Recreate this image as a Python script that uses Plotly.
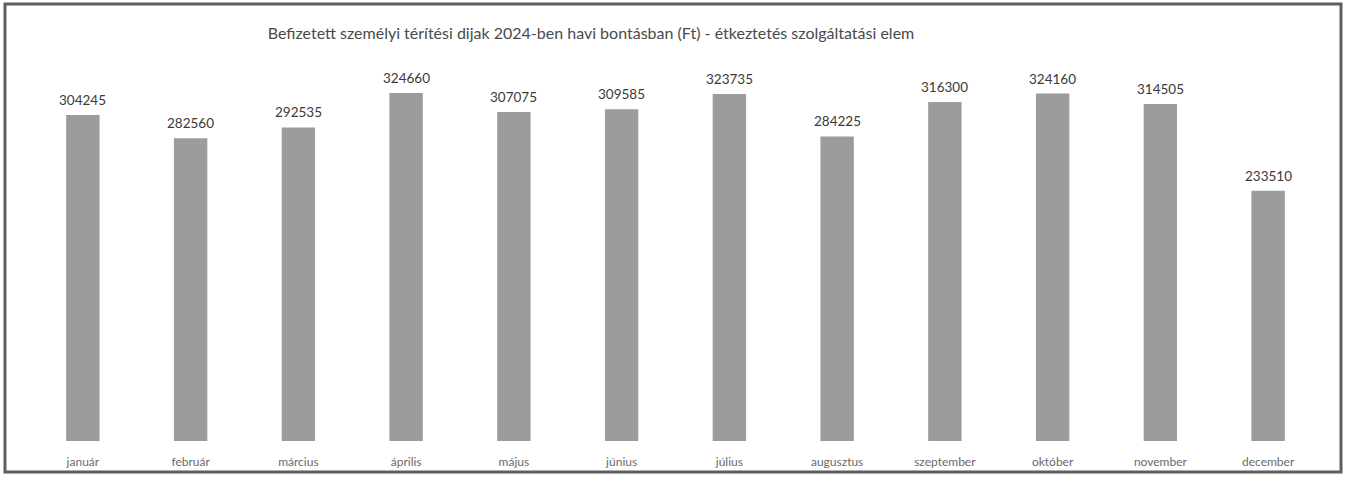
import plotly.graph_objects as go

months = ["január", "február", "március", "április", "május", "június",
          "július", "augusztus", "szeptember", "október", "november", "december"]
payments = [304245, 282560, 292535, 324660, 307075, 309585,
            323735, 284225, 316300, 324160, 314505, 233510]

title_text = "Befizetett személyi térítési dijak 2024-ben havi bontásban (Ft) - étkeztetés szolgáltatási elem"

W, H = 1349, 481
L, R, T, B = 29, 27, 60, 40
pw, ph = W - L - R, H - T - B


def px_x(x):
    return (x - L) / pw


def px_y(y):
    return (H - B - y) / ph


fig = go.Figure(
    go.Bar(
        x=months,
        y=payments,
        marker=dict(color="#9c9c9c", line=dict(width=0)),
        width=0.31,
        hoverinfo="x+y",
    )
)

# value labels above the bars
for m, v in zip(months, payments):
    fig.add_annotation(
        x=m, y=v, text=str(v),
        showarrow=False, yanchor="bottom", yshift=5,
        font=dict(size=13.5, color="#3a3a3a"),
    )

fig.update_layout(
    width=W,
    height=H,
    margin=dict(l=L, r=R, t=T, b=B),
    paper_bgcolor="white",
    plot_bgcolor="white",
    font=dict(family="Lato, Open Sans, sans-serif", color="#555555"),
    title=dict(
        text=title_text,
        x=591 / W,
        xanchor="center",
        xref="container",
        y=1 - 33 / H,
        yanchor="middle",
        font=dict(size=16, color="#4a4a4a"),
    ),
    showlegend=False,
    shapes=[
        dict(
            type="rect",
            xref="paper", yref="paper",
            x0=px_x(5), x1=px_x(1341), y0=px_y(472), y1=px_y(4),
            line=dict(color="#5e5e5e", width=3),
            fillcolor="rgba(0,0,0,0)",
            layer="above",
        )
    ],
)
fig.update_xaxes(
    showgrid=False,
    showline=False,
    ticks="",
    ticklabelstandoff=12,
    tickfont=dict(size=12, color="#6a6a6a"),
)
fig.update_yaxes(
    range=[0, 355500],
    showgrid=False,
    zeroline=False,
    showticklabels=False,
)

fig.write_html(
    "out.html",
    config={"displayModeBar": False},
    post_script="document.body.style.margin='0';document.body.style.overflow='hidden';",
)
